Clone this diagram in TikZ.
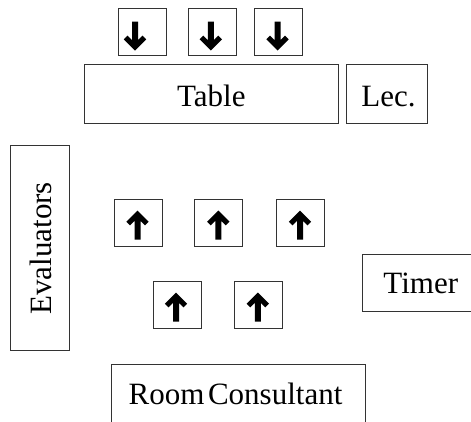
\documentclass[tikz,border=0pt]{standalone}
\usepackage{fontspec}
\setmainfont{Liberation Serif}
\begin{document}
\begin{tikzpicture}[x=1pt,y=-1pt,
  box/.style={draw=black!80, line width=0.9pt, inner sep=0pt, fill=none},
  seat/.style={box, minimum width=48pt, minimum height=47pt},
  lbl/.style={anchor=base, inner sep=0pt, font=\rmfamily\fontsize{31}{32}\selectfont},
  uparr/.pic={\fill[black] (0,-14.5) -- (11.2,-3.3) -- (7.5,0.4) -- (3,-4.1) -- (3,14.5) -- (-3,14.5) -- (-3,-4.1) -- (-7.5,0.4) -- (-11.2,-3.3) -- cycle;},
  downarr/.pic={\fill[black] (0,14.5) -- (11.2,3.3) -- (7.5,-0.4) -- (3,4.1) -- (3,-14.5) -- (-3,-14.5) -- (-3,4.1) -- (-7.5,-0.4) -- (-11.2,3.3) -- cycle;}
]
\useasboundingbox (0,0) rectangle (471,421);
\fill[white] (0,0) rectangle (471,421);

% front seats (facing down)
\node[seat] (d1) at (142,31.7) {};
\node[seat] (d2) at (212,31.7) {};
\node[seat] (d3) at (278.5,31.7) {};
\pic at (135,36) {downarr};
\pic at (210.8,36) {downarr};
\pic at (277.5,36) {downarr};

% table and lectern
\node[box, minimum width=254.7pt, minimum height=59.3pt] (table) at (211.35,93.65) {};
\node[lbl] (tablet) at (211.3,106) {Table};
\node[box, minimum width=80.6pt, minimum height=59.3pt] (lec) at (387,93.65) {};
\node[lbl] (lect) at (388.5,106) {Lec.};

% evaluators
\node[box, minimum width=59.3pt, minimum height=205pt] (eval) at (39.65,247.5) {};
\node[lbl, rotate=90] (evalt) at (51.7,248.3) {Evaluators};

% audience seats (facing up)
\node[seat] (u1) at (138.7,222.7) {};
\node[seat] (u2) at (218.5,222.7) {};
\node[seat] (u3) at (300,222.7) {};
\node[seat] (u4) at (177,305.3) {};
\node[seat] (u5) at (258.7,305.3) {};
\pic at (137.5,225) {uparr};
\pic at (218.3,225) {uparr};
\pic at (300,225) {uparr};
\pic at (176,307) {uparr};
\pic at (257.8,307) {uparr};

% timer
\node[box, minimum width=117pt, minimum height=57.4pt] (timer) at (420.8,283) {};
\node[lbl] (timert) at (420.8,293.3) {Timer};

% room consultant
\node[box, minimum width=254pt, minimum height=76pt] (room) at (238.7,402) {};
\node[lbl] (roomt) at (235.5,404.3) {Room\hspace{0.12em}Consultant};
\end{tikzpicture}
\end{document}
